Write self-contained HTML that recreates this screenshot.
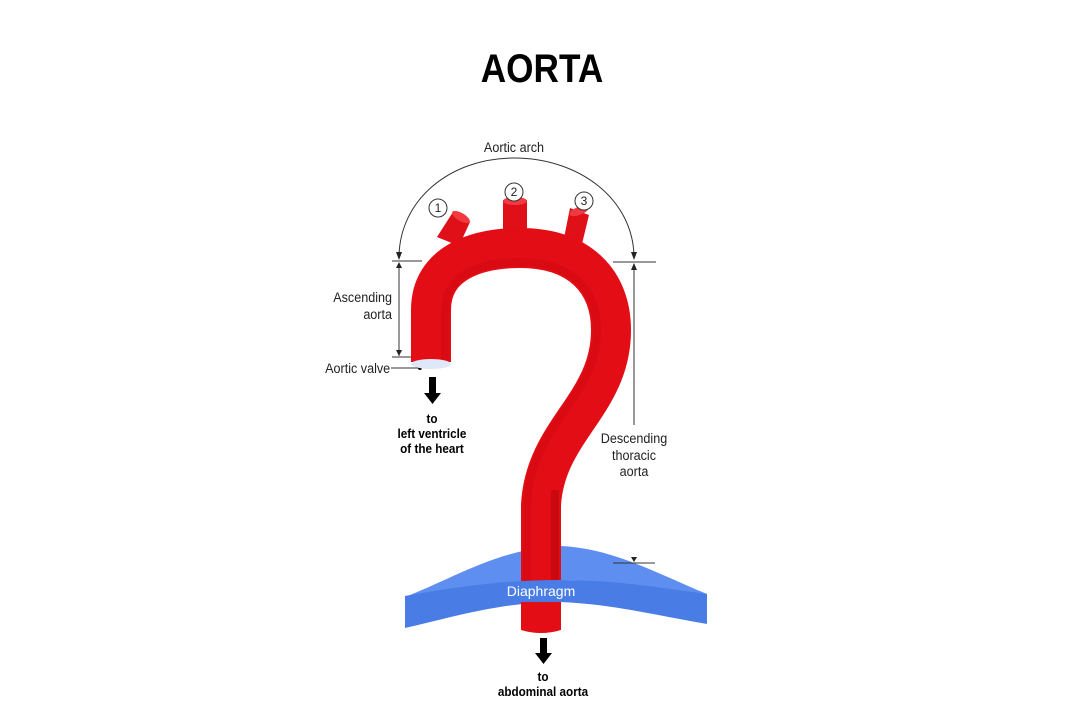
<!DOCTYPE html>
<html><head><meta charset="utf-8"><style>
html,body{margin:0;padding:0;background:#fff;}
svg{display:block;font-family:"Liberation Sans",sans-serif;}
</style></head><body>
<svg width="1080" height="720" viewBox="0 0 1080 720">
<text x="542" y="82" text-anchor="middle" font-size="40" font-weight="bold" fill="#000" transform="translate(542 0) scale(0.88 1) translate(-542 0)">AORTA</text>

<text x="514" y="152" text-anchor="middle" font-size="14" fill="#222" transform="translate(514 0) scale(0.9 1) translate(-514 0)">Aortic arch</text>
<path d="M399,258 C399,200 450,158 514,158 C580,158 634,200 634,258" fill="none" stroke="#333" stroke-width="1"/>
<path d="M396,252 L399,260 L402,252Z M631,252 L634,260 L637,252Z" fill="#222"/>
<line x1="392" y1="261" x2="422" y2="261" stroke="#333" stroke-width="1"/>
<line x1="613" y1="262" x2="656" y2="262" stroke="#333" stroke-width="1"/>
<line x1="399" y1="263" x2="399" y2="356" stroke="#333" stroke-width="1"/>
<path d="M396,268 L399,262 L402,268Z M396,350 L399,356 L402,350Z" fill="#222"/>
<line x1="392" y1="357" x2="412" y2="357" stroke="#333" stroke-width="1"/>
<g font-size="14" fill="#222" text-anchor="end" transform="translate(392 0) scale(0.9 1) translate(-392 0)">
<text x="392" y="302">Ascending</text>
<text x="392" y="319">aorta</text>
<text x="390" y="373">Aortic valve</text>
</g>
<line x1="391" y1="368" x2="420" y2="368" stroke="#333" stroke-width="1"/>
<circle cx="420" cy="368" r="2" fill="#000"/>
<line x1="634" y1="264" x2="634" y2="425" stroke="#333" stroke-width="1"/>
<path d="M631,270 L634,263 L637,270Z" fill="#222"/>
<g font-size="14" fill="#222" text-anchor="middle" transform="translate(634 0) scale(0.9 1) translate(-634 0)">
<text x="634" y="443">Descending</text>
<text x="634" y="460">thoracic</text>
<text x="634" y="476">aorta</text>
</g>

<path d="M405,597 C450,580 500,548 560,546 C610,548 650,570 707,594 L707,600 C650,590 610,580 560,580 C500,582 450,590 405,597Z" fill="#5d8ef0"/>

<path d="M437,237 L453,212 L470,222 L459,246Z" fill="#e01018"/>
<ellipse cx="461" cy="217" rx="10" ry="4" transform="rotate(30 461 217)" fill="#f03a40"/>
<rect x="503" y="200" width="24" height="35" fill="#e01018"/>
<ellipse cx="515" cy="201" rx="12" ry="4" fill="#f03a40"/>
<path d="M564,238 L570,208 L589,215 L582,244Z" fill="#e01018"/>
<ellipse cx="579" cy="211" rx="10" ry="4" transform="rotate(-20 579 211)" fill="#f03a40"/>

<path d="M431,362 L431,310 C431,262 478,248 520,248 C580,248 611,282 611,330 C611,405 545,430 541,505 L541,630" fill="none" stroke="#e30d16" stroke-width="40"/>
<path d="M445,362 L445,312 C445,272 484,262 520,262 C572,262 597,290 597,330 C597,398 530,425 527,505 L527,630" fill="none" stroke="#c8070f" stroke-width="8" opacity="0.35"/>
<path d="M555,490 L555,580" stroke="#c0070e" stroke-width="8" opacity="0.7"/>
<ellipse cx="431" cy="364" rx="20" ry="5" fill="#dfe8f8"/>

<path d="M405,596 C450,588 500,580 560,580 C610,580 650,586 707,594 L707,624 C650,614 610,604 560,602 C500,602 450,618 405,628Z" fill="#4a7ce6"/>
<path d="M521,602 L561,602 L561,630 Q541,636 521,630Z" fill="#e30d16"/>
<text x="541" y="596" text-anchor="middle" font-size="14" fill="#fff">Diaphragm</text>
<line x1="613" y1="563" x2="655" y2="563" stroke="#333" stroke-width="1"/>
<path d="M631,557 L634,562 L637,557Z" fill="#222"/>

<g font-size="12" text-anchor="middle" fill="#222">
<circle cx="438" cy="208" r="9" fill="#fff" stroke="#333"/><text x="438" y="212">1</text>
<circle cx="514" cy="192" r="9" fill="#fff" stroke="#333"/><text x="514" y="196">2</text>
<circle cx="584" cy="201" r="9" fill="#fff" stroke="#333"/><text x="584" y="205">3</text>
</g>

<path d="M429,377 L436,377 L436,393 L441,393 L432.5,404 L424,393 L429,393Z" fill="#000"/>
<g font-size="13" font-weight="bold" text-anchor="middle" transform="translate(432 0) scale(0.9 1) translate(-432 0)">
<text x="432" y="423">to</text>
<text x="432" y="438">left ventricle</text>
<text x="432" y="453">of the heart</text>
</g>
<path d="M540,638 L547,638 L547,653 L552,653 L543.5,664 L535,653 L540,653Z" fill="#000"/>
<g font-size="13" font-weight="bold" text-anchor="middle" transform="translate(543 0) scale(0.9 1) translate(-543 0)">
<text x="543" y="681">to</text>
<text x="543" y="696">abdominal aorta</text>
</g>
</svg>
</body></html>
